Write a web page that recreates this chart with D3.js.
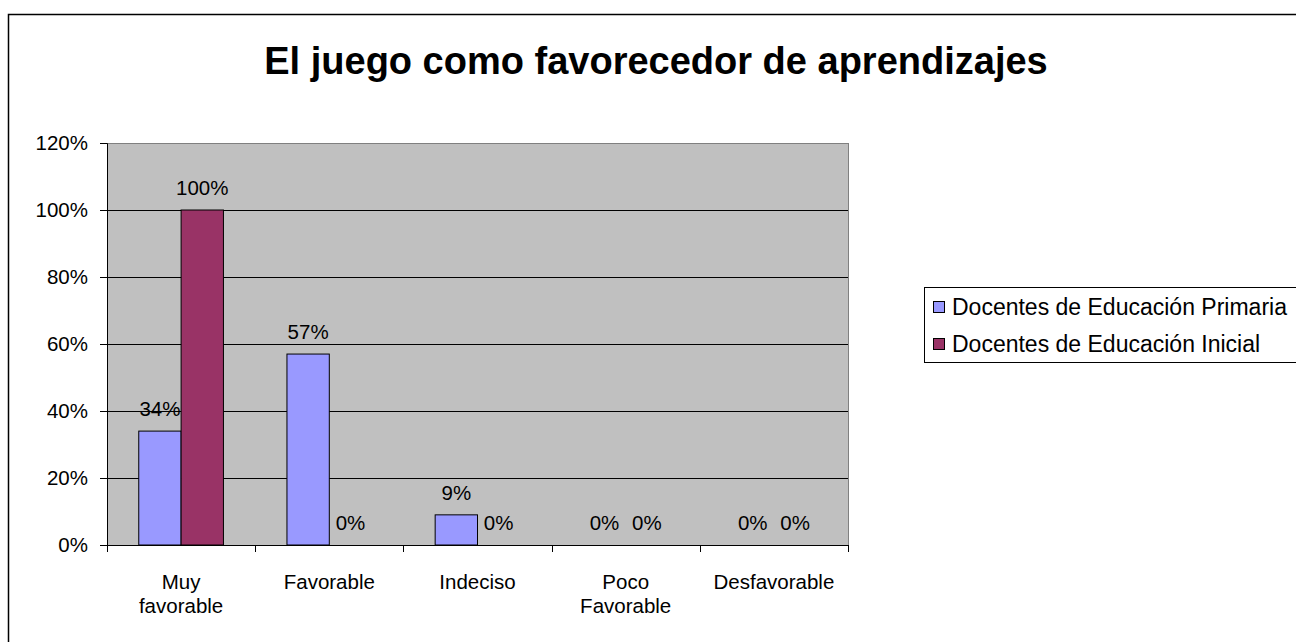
<!DOCTYPE html>
<html>
<head>
<meta charset="utf-8">
<script src="https://cdn.jsdelivr.net/npm/d3@7"></script>
<style>
  body { margin: 0; background: #fff; }
  svg text { font-family: "Liberation Sans", Arial, sans-serif; fill: #000; }
</style>
</head>
<body>
<svg id="chart" width="1296" height="642"></svg>
<script>
// Chart data.
const categories = ["Muy favorable", "Favorable", "Indeciso", "Poco Favorable", "Desfavorable"];
const categoryLines = [["Muy", "favorable"], ["Favorable"], ["Indeciso"], ["Poco", "Favorable"], ["Desfavorable"]];
const seriesNames = ["Docentes de Educación Primaria", "Docentes de Educación Inicial"];
const primaria = [0.34, 0.57, 0.09, 0, 0];
const inicial = [1.00, 0, 0, 0, 0];
const yTicks = [0, 0.2, 0.4, 0.6, 0.8, 1.0, 1.2];
const colors = ["#9999ff", "#993366"];

const margin = { top: 143, right: 448, bottom: 97, left: 107 };
const labelSize = "20.5px";

const svg = d3.select("#chart");
const width = +svg.attr("width") - margin.left - margin.right;
const height = +svg.attr("height") - margin.top - margin.bottom;

// outer chart border, runs off the right and bottom edges
svg.append("rect")
  .attr("x", 8.5).attr("y", 14.5)
  .attr("width", 1400).attr("height", 700)
  .attr("fill", "#fff")
  .attr("stroke", "#000")
  .attr("stroke-width", 1.5);

svg.append("text")
  .attr("x", 656)
  .attr("y", 74)
  .attr("text-anchor", "middle")
  .style("font-size", "38px")
  .style("font-weight", "bold")
  .text("El juego como favorecedor de aprendizajes");

const g = svg.append("g").attr("transform", `translate(${margin.left},${margin.top})`);

const x0 = d3.scaleBand().domain(categories).range([0, width]).paddingInner(0).paddingOuter(0);
// gap width 150% as in the spreadsheet chart
const x1 = d3.scaleBand().domain(seriesNames).range([0, x0.bandwidth()]).paddingInner(0).paddingOuter(0.75);
const y = d3.scaleLinear().domain([0, 1.2]).range([height, 0]);

g.append("rect")
  .attr("width", width).attr("height", height)
  .attr("fill", "#c0c0c0");

g.append("g")
  .selectAll("line")
  .data(yTicks.slice(1, -1))
  .join("line")
  .attr("x1", 0).attr("x2", width)
  .attr("y1", d => Math.round(y(d)) + 0.5).attr("y2", d => Math.round(y(d)) + 0.5)
  .attr("stroke", "#000");

g.append("rect")
  .attr("x", 0.5).attr("y", 0.5)
  .attr("width", width).attr("height", height)
  .attr("fill", "none")
  .attr("stroke", "#808080");

const series = [primaria, inicial];
const bars = g.append("g");
series.forEach((vals, si) => {
  bars.selectAll(null)
    .data(vals.map((v, i) => ({ cat: categories[i], v })))
    .join("rect")
    .attr("x", d => x0(d.cat) + x1(seriesNames[si]))
    .attr("y", d => y(d.v))
    .attr("width", x1.bandwidth())
    .attr("height", d => y(0) - y(d.v))
    .attr("fill", colors[si])
    .attr("stroke", d => d.v > 0 ? "#000" : "none")
    .attr("stroke-width", 1);

  bars.selectAll(null)
    .data(vals.map((v, i) => ({ cat: categories[i], v })))
    .join("text")
    .attr("x", d => x0(d.cat) + x1(seriesNames[si]) + x1.bandwidth() / 2)
    .attr("y", d => y(d.v) - 15)
    .attr("text-anchor", "middle")
    .style("font-size", labelSize)
    .text(d => d3.format(".0%")(d.v));
});

// y axis
const yAxis = g.append("g")
  .call(d3.axisLeft(y).tickValues(yTicks).tickFormat(d3.format(".0%")).tickSize(7).tickPadding(12));
yAxis.select(".domain").attr("stroke", "#000");
yAxis.selectAll("line").attr("stroke", "#000");
yAxis.selectAll("text").style("font-size", labelSize).attr("fill", "#000");

// x axis: ticks between categories
const xAxis = g.append("g").attr("transform", `translate(0,${height})`);
xAxis.append("line").attr("x1", -7).attr("x2", width).attr("y1", 0.5).attr("y2", 0.5).attr("stroke", "#000");
xAxis.selectAll("line.tick")
  .data(categories.map(c => x0(c)).concat([width]))
  .join("line")
  .attr("class", "tick")
  .attr("x1", d => Math.round(d) + 0.5).attr("x2", d => Math.round(d) + 0.5)
  .attr("y1", 0).attr("y2", 7)
  .attr("stroke", "#000");

xAxis.selectAll("text.cat")
  .data(categories)
  .join("text")
  .attr("class", "cat")
  .attr("text-anchor", "middle")
  .attr("x", d => x0(d) + x0.bandwidth() / 2)
  .style("font-size", labelSize)
  .each(function (d, i) {
    const t = d3.select(this);
    categoryLines[i].forEach((ln, k) => {
      t.append("tspan")
        .attr("x", x0(d) + x0.bandwidth() / 2)
        .attr("y", 44 + k * 24)
        .text(ln);
    });
  });

// legend
const legend = svg.append("g");
legend.append("rect")
  .attr("x", 924.5).attr("y", 287.5)
  .attr("width", 500).attr("height", 75)
  .attr("fill", "#fff")
  .attr("stroke", "#000");
const legendRows = [307, 344];
seriesNames.forEach((name, i) => {
  legend.append("rect")
    .attr("x", 933.5).attr("y", legendRows[i] - 5.5)
    .attr("width", 11).attr("height", 11)
    .attr("fill", colors[i])
    .attr("stroke", "#000");
  legend.append("text")
    .attr("x", 952)
    .attr("y", legendRows[i] + 8)
    .style("font-size", "23px")
    .text(name);
});
</script>
</body>
</html>
